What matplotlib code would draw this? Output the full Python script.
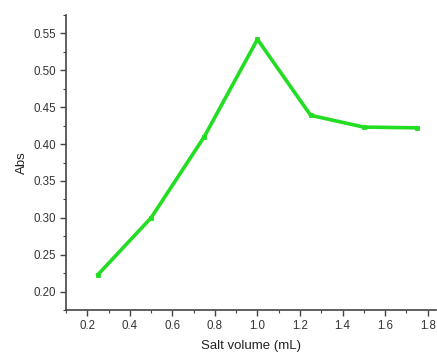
import matplotlib
matplotlib.use("Agg")
import matplotlib.pyplot as plt
from matplotlib.ticker import MultipleLocator, FormatStrFormatter

plt.rcParams['font.family'] = ['Liberation Sans', 'DejaVu Sans']

salt_volume = [0.25, 0.50, 0.75, 1.00, 1.25, 1.50, 1.75]
absorbance = [0.223, 0.300, 0.410, 0.542, 0.439, 0.423, 0.422]

fig = plt.figure(figsize=(4.37, 3.56), dpi=100)
ax = fig.add_axes([0.151, 0.129, 0.847, 0.829])

ax.plot(salt_volume, absorbance, color='#22dd22', linewidth=2.6,
        marker='s', markersize=3.2, markeredgewidth=0.6)

ax.set_xlim(0.1, 1.84)
ax.set_ylim(0.175, 0.575)
ax.xaxis.set_major_locator(MultipleLocator(0.2))
ax.xaxis.set_minor_locator(MultipleLocator(0.1))
ax.yaxis.set_major_locator(MultipleLocator(0.05))
ax.yaxis.set_minor_locator(MultipleLocator(0.025))
ax.xaxis.set_major_formatter(FormatStrFormatter('%.1f'))
ax.yaxis.set_major_formatter(FormatStrFormatter('%.2f'))

for side in ('top', 'right'):
    ax.spines[side].set_visible(False)
for side in ('left', 'bottom'):
    ax.spines[side].set_color('#444444')
    ax.spines[side].set_linewidth(1.2)

ax.tick_params(which='major', direction='out', length=4, width=1, colors='#444444',
               labelsize=8.3, labelcolor='#333333', pad=3)
ax.tick_params(which='minor', direction='out', length=2, width=0.8, colors='#444444')

ax.set_xlabel('Salt volume (mL)', fontsize=9.5, color='#222222', labelpad=6)
ax.set_ylabel('Abs', fontsize=9.5, color='#222222', labelpad=4)

fig.savefig('out.png', dpi=100)
